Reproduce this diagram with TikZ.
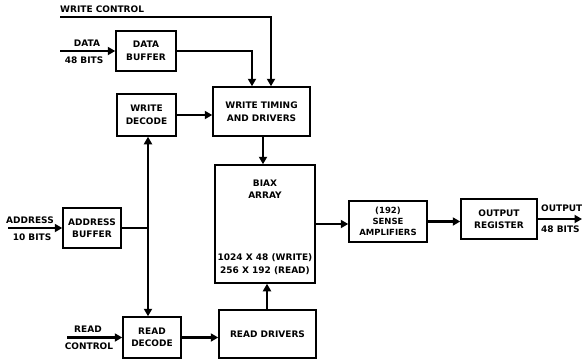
\documentclass[tikz,border=0pt]{standalone}
\usepackage{fontspec}
\setmainfont{DejaVu Sans}
\usetikzlibrary{arrows.meta,calc}
\begin{document}
\begin{tikzpicture}[x=1pt,y=-1pt,
  box/.style={draw,line width=1.5pt,inner sep=0pt,align=center,font=\fontsize{9}{12.5}\selectfont\bfseries},
  wire/.style={line width=2.3pt},
  arr/.style={wire,-{Triangle[length=7.5pt,width=8pt]}},
  lbl/.style={inner sep=0pt,font=\fontsize{9}{12.5}\selectfont\bfseries}]
\useasboundingbox (0,0) rectangle (582,359);
% boxes
\node[box,minimum width=60pt,minimum height=40pt] (databuf) at (146,51) {DATA\\BUFFER};
\node[box,minimum width=59pt,minimum height=42pt] (wdec) at (146.5,115) {WRITE\\DECODE};
\node[box,minimum width=97pt,minimum height=49pt] (wtim) at (261.5,111.5) {WRITE TIMING\\AND DRIVERS};
\node[box,minimum width=100pt,minimum height=118pt] (biax) at (265,224) {};
\node[lbl,align=center] (biaxt) at (265,189) {BIAX\\ARRAY};
\node[lbl,align=center] (biaxb) at (265,264) {1024 X 48 (WRITE)\\256 X 192 (READ)};
\node[box,minimum width=78pt,minimum height=41pt,font=\fontsize{8.5}{11}\selectfont\bfseries] (sense) at (388,221.5) {(192)\\SENSE\\AMPLIFIERS};
\node[box,minimum width=76pt,minimum height=40pt] (outreg) at (499,219) {OUTPUT\\REGISTER};
\node[box,minimum width=97pt,minimum height=48pt] (rdrv) at (267.5,334) {READ DRIVERS};
\node[box,minimum width=58pt,minimum height=40pt] (abuf) at (92,228) {ADDRESS\\BUFFER};
\node[box,minimum width=58pt,minimum height=41pt] (rdec) at (152,337.5) {READ\\DECODE};
% free ends
\coordinate (wc) at (60,17);
\coordinate (din) at (60,51);
\coordinate (ain) at (8,228);
\coordinate (rin) at (67,337.5);
\coordinate (out) at (582,219);
\coordinate (jn) at (148,228);
% labels
\node[lbl,anchor=south west] (wcl) at (60,13) {WRITE CONTROL};
\node[lbl] (dl1) at (87,43) {DATA};
\node[lbl] (dl2) at (84,60) {48 BITS};
\node[lbl] (al1) at (30,220) {ADDRESS};
\node[lbl] (al2) at (32,237) {10 BITS};
\node[lbl] (rl1) at (88,329) {READ};
\node[lbl] (rl2) at (89,346) {CONTROL};
\node[lbl,anchor=west] (ol1) at (541,208) {OUTPUT};
\node[lbl,anchor=west] (ol2) at (541,229) {48 BITS};
% connectors
\draw[arr] (wc) -| (271,0 |- wtim.north);
\draw[arr] (databuf.east) -| (252,0 |- wtim.north);
\draw[arr] (din) -- (databuf.west);
\draw[arr] (wdec.east) -- (wdec.east -| wtim.west);
\draw[arr] (263,0 |- wtim.south) -- (263,0 |- biax.north);
\draw[arr] (267,0 |- rdrv.north) -- (267,0 |- biax.south);
\draw[arr] (biax.east) -- (biax.east -| sense.west);
\draw[arr] (sense.east) -- (sense.east -| outreg.west);
\draw[arr] (outreg.east) -- (out);
\draw[wire] (abuf.east) -- (jn);
\draw[arr] (jn) -- (jn |- wdec.south);
\draw[arr] (jn) -- (jn |- rdec.north);
\draw[arr] (ain) -- (abuf.west);
\draw[arr] (rin) -- (rdec.west);
\draw[arr] (rdec.east) -- (rdec.east -| rdrv.west);
\end{tikzpicture}
\end{document}
